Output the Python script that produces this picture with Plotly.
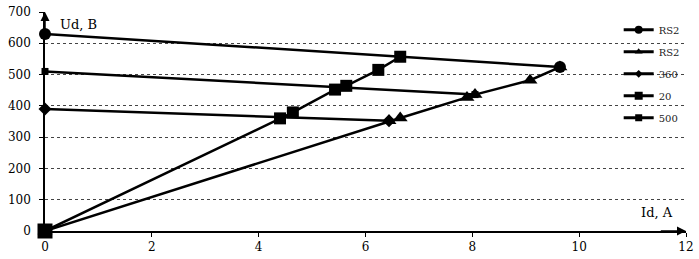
import plotly.graph_objects as go

# data
ray_sq_x = [0, 4.40, 4.64, 5.43, 5.64, 6.24, 6.65]
ray_sq_y = [0, 360, 379, 452, 464, 515, 557]
ray_tri_x = [0, 6.44, 6.65, 7.90, 8.05, 9.08, 9.64]
ray_tri_y = [0, 352, 361, 427, 436, 482, 524]
top_x = [0, 9.64]
top_y = [630, 524]
mid_x = [0, 8.05]
mid_y = [510, 436]
bot_x = [0, 6.44]
bot_y = [390, 352]
x_ticks = [0, 2, 4, 6, 8, 10, 12]
y_ticks = [0, 100, 200, 300, 400, 500, 600, 700]
legend_names = ["RS2", "RS2", "360", "20", "500"]

font = dict(family="DejaVu Serif", size=12, color="black")
fig = go.Figure()
line = dict(color="black", width=2.5)


def mk(symbol, size):
    return dict(symbol=symbol, size=size, color="black", opacity=1,
                line=dict(width=0, color="black"))


series = [
    (top_x, top_y, "circle", 12, 8),
    (ray_tri_x, ray_tri_y, "triangle-up", 13, 7),
    (bot_x, bot_y, "diamond", 10, 6),
    (ray_sq_x, ray_sq_y, "square", [15, 12, 12, 12, 12, 12, 12], 8),
    (mid_x, mid_y, "square", 7, 7),
]

for (xs, ys, sym, size, lsize), name in zip(series, legend_names):
    fig.add_trace(go.Scatter(x=xs, y=ys, mode="lines+markers", name=name,
                             line=line, marker=mk(sym, size), showlegend=False,
                             cliponaxis=False))
for i, ((xs, ys, sym, size, lsize), name) in enumerate(zip(series, legend_names)):
    fig.add_trace(go.Scatter(x=[None], y=[None], mode="lines+markers", name=name,
                             line=dict(color="black", width=3), marker=mk(sym, lsize),
                             legendgroup=f"g{i}"))

fig.update_layout(
    width=699, height=259,
    margin=dict(l=45, r=13, t=5, b=23),
    plot_bgcolor="white", paper_bgcolor="white",
    font=font,
    showlegend=True,
    legend=dict(x=0.895, y=0.985, xanchor="left", yanchor="top",
                bgcolor="rgba(0,0,0,0)", font=dict(family="DejaVu Serif", size=10, color="#222"),
                tracegroupgap=3, itemsizing="trace"),
    xaxis=dict(range=[0, 12], tickvals=x_ticks, showgrid=False, zeroline=False,
               showline=True, linecolor="black", linewidth=1.5,
               ticks="outside", ticklen=4, tickcolor="black", tickfont=font,
               ticklabeloverflow="allow"),
    yaxis=dict(range=[0, 700], tickvals=y_ticks, showgrid=True, gridcolor="#444",
               griddash="dot", gridwidth=1, zeroline=False,
               showline=True, linecolor="black", linewidth=1.5,
               ticks="outside", ticklen=4, tickcolor="black", tickfont=font,
               ticklabelstandoff=6, ticklabeloverflow="allow"),
    annotations=[
        dict(x=0, y=700, ax=0, ay=640, xref="x", yref="y", axref="x", ayref="y",
             showarrow=True, arrowhead=2, arrowsize=1.2, arrowwidth=1.5, arrowcolor="black", text=""),
        dict(x=12, y=0, ax=11.5, ay=0, xref="x", yref="y", axref="x", ayref="y",
             showarrow=True, arrowhead=2, arrowsize=1.2, arrowwidth=1.5, arrowcolor="black", text=""),
        dict(x=0.25, y=660, xref="x", yref="y", text="Ud, B", showarrow=False,
             xanchor="left", font=dict(family="DejaVu Serif", size=13, color="black")),
        dict(x=11.45, y=60, xref="x", yref="y", text="Id, A", showarrow=False,
             xanchor="center", font=dict(family="DejaVu Serif", size=13, color="black")),
    ],
)
fig.write_html("out.html", config={"displayModeBar": False},
               post_script="document.body.style.margin='0';document.body.style.overflow='hidden';")
